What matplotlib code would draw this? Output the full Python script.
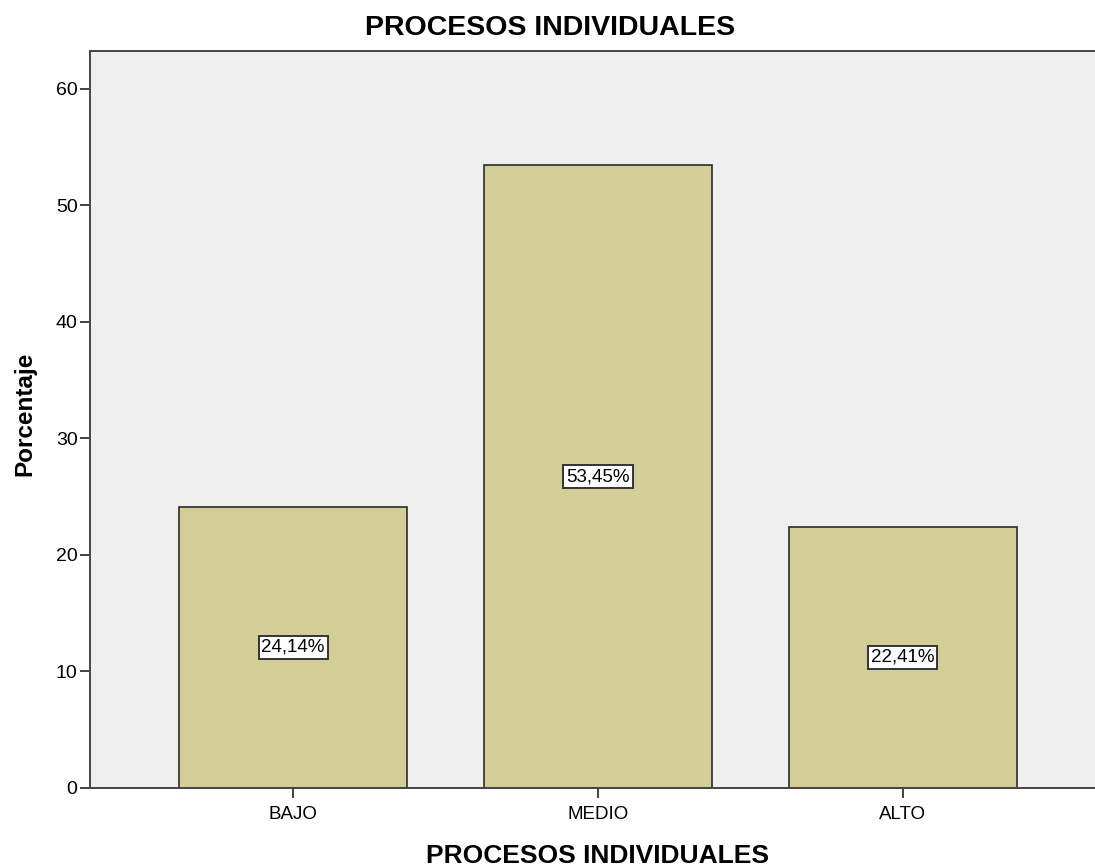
#Bar chart - PROCESOS INDIVIDUALES

#Importing libraries
import numpy as np
import matplotlib
matplotlib.use("Agg")
import matplotlib.pyplot as plt

plt.rcParams['font.family'] = ['Liberation Sans', 'DejaVu Sans']

#Data
categories = ['BAJO', 'MEDIO', 'ALTO']
percentages = [24.14, 53.45, 22.41]
y_ticks = [0, 10, 20, 30, 40, 50, 60]

#Figure and axes
fig = plt.figure(figsize=(10.95, 8.68), dpi=100)
ax = fig.add_axes([90/1095, 80/868, 1 - 90/1095, 737/868])
ax.set_facecolor('#efefef')

x = np.arange(len(categories))
ax.bar(x, percentages, width=0.748, color='#d3ce97', edgecolor='#2b2b2b', linewidth=1.2, zorder=2)

#Value labels inside bars
for xi, v in zip(x, percentages):
    ax.text(xi, v / 2, ('%.2f' % v).replace('.', ',') + '%', ha='center', va='center',
            fontsize=13.5, color='black', zorder=3,
            bbox=dict(boxstyle='square,pad=0.15', facecolor='white', edgecolor='#333333', linewidth=1.4))

ax.set_xlim(-0.666, 2.63)
ax.set_ylim(0, 63.26)
ax.set_xticks(x)
ax.set_xticklabels(categories, fontsize=13.5)
ax.set_yticks(y_ticks)
ax.set_yticklabels([str(t) for t in y_ticks], fontsize=14)
ax.tick_params(axis='both', length=7, width=1.3, color='#333333')
ax.tick_params(axis='x', pad=6)
ax.tick_params(axis='y', pad=2)

for s in ['left', 'bottom', 'top']:
    ax.spines[s].set_color('#444444')
    ax.spines[s].set_linewidth(1.4)
ax.spines['right'].set_visible(False)

#Titles
fig.text(25/1095, 1 - 414/868, 'Porcentaje', rotation=90, ha='center', va='center',
         fontsize=17.5, fontweight='bold')
fig.text(598/1095, 1 - 856/868, 'PROCESOS INDIVIDUALES', ha='center', va='center',
         fontsize=19, fontweight='bold')
fig.text(550/1095, 1 - 28/868, 'PROCESOS INDIVIDUALES', ha='center', va='center',
         fontsize=20.5, fontweight='bold')

plt.savefig('out.png', dpi=100)
